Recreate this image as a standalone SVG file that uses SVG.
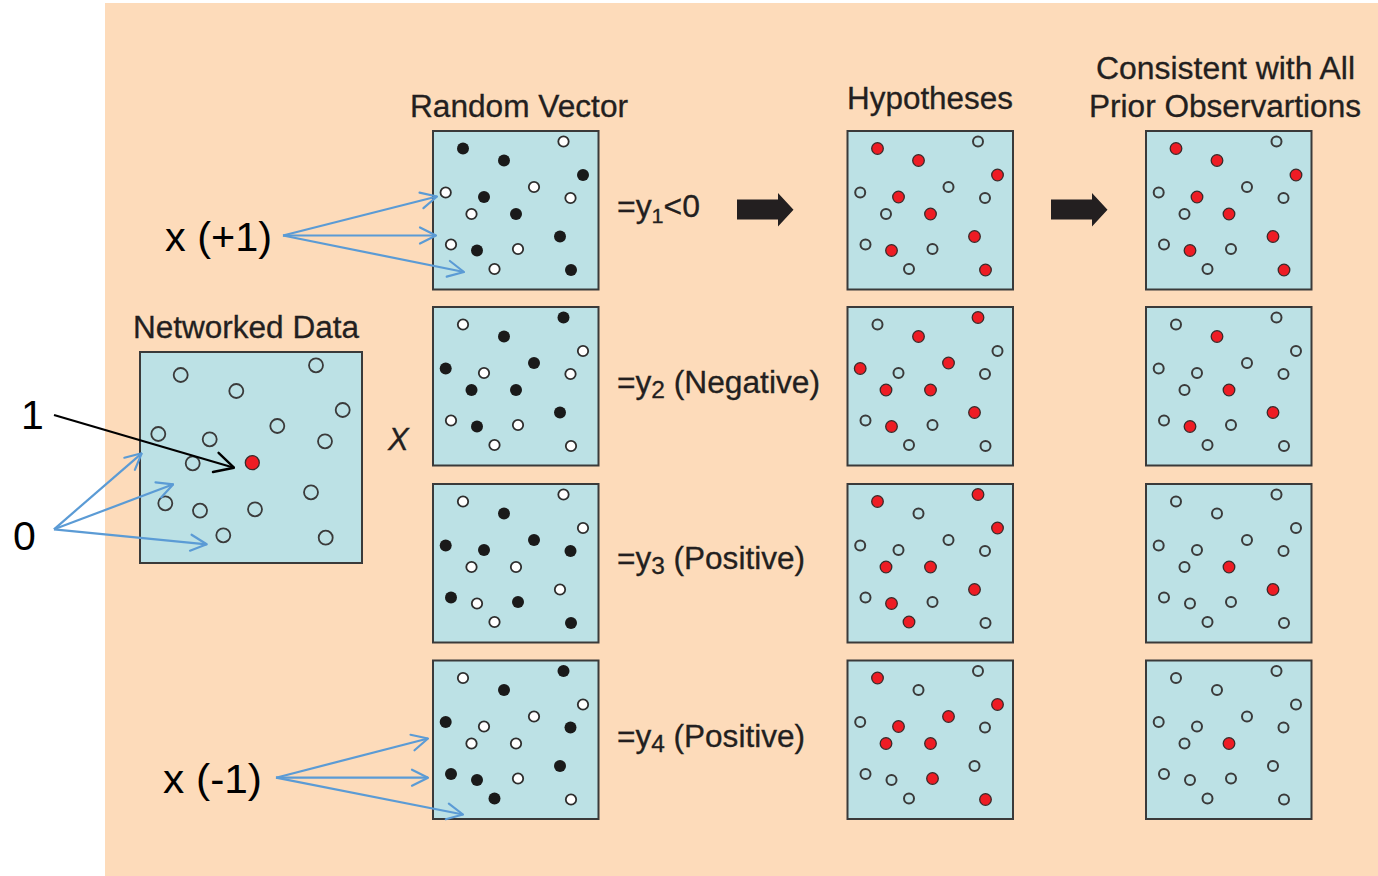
<svg xmlns="http://www.w3.org/2000/svg" width="1378" height="876" viewBox="0 0 1378 876">
<style>
.bg{fill:#FDDBBA}
.panel{fill:#BCE1E5;stroke:#3A3A3A;stroke-width:2}
.b{fill:#1A1A1A}
.w{fill:#FFFFFF;stroke:#2E2E2E;stroke-width:1.8}
.r{fill:#EE1C24;stroke:#3A2A2A;stroke-width:1.3}
.o{fill:none;stroke:#3A3A3A;stroke-width:2}
.nd{fill:none;stroke:#3A3A3A;stroke-width:1.8}
.t{font-family:"Liberation Sans",Arial,sans-serif;fill:#231F20;font-size:31px;stroke:#231F20;stroke-width:0.3}
.big{font-family:"Liberation Sans",Arial,sans-serif;fill:#000;font-size:41px}
.blue{fill:none;stroke:#5B9BD5;stroke-width:2.2}
.blk{fill:none;stroke:#000;stroke-width:2.2}
.block{fill:#231F20}
</style>
<defs>
<marker id="ab" viewBox="0 0 20 20" refX="19" refY="10" markerWidth="20" markerHeight="20" markerUnits="userSpaceOnUse" orient="auto">
<path d="M3,2 L19,10 L3,18" fill="none" stroke="#5B9BD5" stroke-width="2.2" stroke-linecap="round" stroke-linejoin="round"/>
</marker>
<marker id="ak" viewBox="0 0 24 24" refX="23" refY="12" markerWidth="24" markerHeight="24" markerUnits="userSpaceOnUse" orient="auto">
<path d="M4,2 L23,12 L4,22" fill="none" stroke="#000" stroke-width="2.4" stroke-linecap="round" stroke-linejoin="round"/>
</marker>
</defs>

<rect class="bg" x="105" y="3" width="1273" height="873"/>

<!-- titles -->
<g id="titles">
<text class="t" x="410" y="117" textLength="218" lengthAdjust="spacingAndGlyphs">Random Vector</text>
<text class="t" x="847" y="109" textLength="166" lengthAdjust="spacingAndGlyphs">Hypotheses</text>
<text class="t" x="1096" y="79" textLength="259" lengthAdjust="spacingAndGlyphs">Consistent with All</text>
<text class="t" x="1089" y="117" textLength="272" lengthAdjust="spacingAndGlyphs">Prior Observartions</text>
<text class="t" x="133" y="338" textLength="226" lengthAdjust="spacingAndGlyphs">Networked Data</text>
<text class="t" x="388" y="450" font-style="italic" stroke-width="0">X</text>
</g>

<!-- networked data -->
<g id="networked-data">
<rect class="panel" x="140" y="352" width="222" height="211"/>
<circle class="nd" cx="180.7" cy="375" r="7"/>
<circle class="nd" cx="236.3" cy="391" r="7"/>
<circle class="nd" cx="316" cy="365.3" r="7"/>
<circle class="nd" cx="342.7" cy="410" r="7"/>
<circle class="nd" cx="158.3" cy="434" r="7"/>
<circle class="nd" cx="209.7" cy="439.3" r="7"/>
<circle class="nd" cx="277.3" cy="426" r="7"/>
<circle class="nd" cx="325" cy="441.3" r="7"/>
<circle class="nd" cx="192.7" cy="463.3" r="7"/>
<circle class="r" cx="252.3" cy="462.7" r="7"/>
<circle class="nd" cx="165.3" cy="503.3" r="7"/>
<circle class="nd" cx="200" cy="510.7" r="7"/>
<circle class="nd" cx="255" cy="509.3" r="7"/>
<circle class="nd" cx="311" cy="492.3" r="7"/>
<circle class="nd" cx="223.3" cy="535.3" r="7"/>
<circle class="nd" cx="325.7" cy="537.7" r="7"/>
</g>

<!-- Random vector panels -->
<g id="rv1" transform="translate(433,131)">
<rect class="panel" x="0" y="0" width="165.5" height="158.5"/>
<circle class="b" cx="30" cy="17.5" r="6"/><circle class="b" cx="71" cy="29.5" r="6"/><circle class="w" cx="130.5" cy="10.5" r="5.2"/><circle class="b" cx="150" cy="44" r="6"/>
<circle class="w" cx="12.7" cy="61.5" r="5.2"/><circle class="b" cx="51" cy="66" r="6"/><circle class="w" cx="101" cy="56" r="5.2"/><circle class="w" cx="137.5" cy="67" r="5.2"/>
<circle class="w" cx="38.5" cy="83" r="5.2"/><circle class="b" cx="83" cy="83" r="6"/><circle class="w" cx="18" cy="113.5" r="5.2"/><circle class="b" cx="44" cy="119.5" r="6"/>
<circle class="w" cx="85" cy="118" r="5.2"/><circle class="b" cx="127" cy="105.5" r="6"/><circle class="w" cx="61.5" cy="138" r="5.2"/><circle class="b" cx="138" cy="139" r="6"/>
</g>
<g id="rv2" transform="translate(433,307)">
<rect class="panel" x="0" y="0" width="165.5" height="158.5"/>
<circle class="w" cx="30" cy="17.5" r="5.2"/><circle class="b" cx="71" cy="29.5" r="6"/><circle class="b" cx="130.5" cy="10.5" r="6"/><circle class="w" cx="150" cy="44" r="5.2"/>
<circle class="b" cx="12.7" cy="61.5" r="6"/><circle class="w" cx="51" cy="66" r="5.2"/><circle class="b" cx="101" cy="56" r="6"/><circle class="w" cx="137.5" cy="67" r="5.2"/>
<circle class="b" cx="38.5" cy="83" r="6"/><circle class="b" cx="83" cy="83" r="6"/><circle class="w" cx="18" cy="113.5" r="5.2"/><circle class="b" cx="44" cy="119.5" r="6"/>
<circle class="w" cx="85" cy="118" r="5.2"/><circle class="b" cx="127" cy="105.5" r="6"/><circle class="w" cx="61.5" cy="138" r="5.2"/><circle class="w" cx="138" cy="139" r="5.2"/>
</g>
<g id="rv3" transform="translate(433,484)">
<rect class="panel" x="0" y="0" width="165.5" height="158.5"/>
<circle class="w" cx="30" cy="17.5" r="5.2"/><circle class="b" cx="71" cy="29.5" r="6"/><circle class="w" cx="130.5" cy="10.5" r="5.2"/><circle class="w" cx="150" cy="44" r="5.2"/>
<circle class="b" cx="12.7" cy="61.5" r="6"/><circle class="b" cx="51" cy="66" r="6"/><circle class="b" cx="101" cy="56" r="6"/><circle class="b" cx="137.5" cy="67" r="6"/>
<circle class="w" cx="38.5" cy="83" r="5.2"/><circle class="w" cx="83" cy="83" r="5.2"/><circle class="b" cx="18" cy="113.5" r="6"/><circle class="w" cx="44" cy="119.5" r="5.2"/>
<circle class="b" cx="85" cy="118" r="6"/><circle class="w" cx="127" cy="105.5" r="5.2"/><circle class="w" cx="61.5" cy="138" r="5.2"/><circle class="b" cx="138" cy="139" r="6"/>
</g>
<g id="rv4" transform="translate(433,660.5)">
<rect class="panel" x="0" y="0" width="165.5" height="158.5"/>
<circle class="w" cx="30" cy="17.5" r="5.2"/><circle class="b" cx="71" cy="29.5" r="6"/><circle class="b" cx="130.5" cy="10.5" r="6"/><circle class="w" cx="150" cy="44" r="5.2"/>
<circle class="b" cx="12.7" cy="61.5" r="6"/><circle class="w" cx="51" cy="66" r="5.2"/><circle class="w" cx="101" cy="56" r="5.2"/><circle class="b" cx="137.5" cy="67" r="6"/>
<circle class="w" cx="38.5" cy="83" r="5.2"/><circle class="w" cx="83" cy="83" r="5.2"/><circle class="b" cx="18" cy="113.5" r="6"/><circle class="b" cx="44" cy="119.5" r="6"/>
<circle class="w" cx="85" cy="118" r="5.2"/><circle class="b" cx="127" cy="105.5" r="6"/><circle class="b" cx="61.5" cy="138" r="6"/><circle class="w" cx="138" cy="139" r="5.2"/>
</g>

<!-- Hypotheses panels -->
<g id="h1" transform="translate(847.5,131)">
<rect class="panel" x="0" y="0" width="165.5" height="158.5"/>
<circle class="r" cx="30" cy="17.5" r="5.8"/><circle class="r" cx="71" cy="29.5" r="5.8"/><circle class="o" cx="130.5" cy="10.5" r="5"/><circle class="r" cx="150" cy="44" r="5.8"/>
<circle class="o" cx="12.7" cy="61.5" r="5"/><circle class="r" cx="51" cy="66" r="5.8"/><circle class="o" cx="101" cy="56" r="5"/><circle class="o" cx="137.5" cy="67" r="5"/>
<circle class="o" cx="38.5" cy="83" r="5"/><circle class="r" cx="83" cy="83" r="5.8"/><circle class="o" cx="18" cy="113.5" r="5"/><circle class="r" cx="44" cy="119.5" r="5.8"/>
<circle class="o" cx="85" cy="118" r="5"/><circle class="r" cx="127" cy="105.5" r="5.8"/><circle class="o" cx="61.5" cy="138" r="5"/><circle class="r" cx="138" cy="139" r="5.8"/>
</g>
<g id="h2" transform="translate(847.5,307)">
<rect class="panel" x="0" y="0" width="165.5" height="158.5"/>
<circle class="o" cx="30" cy="17.5" r="5"/><circle class="r" cx="71" cy="29.5" r="5.8"/><circle class="r" cx="130.5" cy="10.5" r="5.8"/><circle class="o" cx="150" cy="44" r="5"/>
<circle class="r" cx="12.7" cy="61.5" r="5.8"/><circle class="o" cx="51" cy="66" r="5"/><circle class="r" cx="101" cy="56" r="5.8"/><circle class="o" cx="137.5" cy="67" r="5"/>
<circle class="r" cx="38.5" cy="83" r="5.8"/><circle class="r" cx="83" cy="83" r="5.8"/><circle class="o" cx="18" cy="113.5" r="5"/><circle class="r" cx="44" cy="119.5" r="5.8"/>
<circle class="o" cx="85" cy="118" r="5"/><circle class="r" cx="127" cy="105.5" r="5.8"/><circle class="o" cx="61.5" cy="138" r="5"/><circle class="o" cx="138" cy="139" r="5"/>
</g>
<g id="h3" transform="translate(847.5,484)">
<rect class="panel" x="0" y="0" width="165.5" height="158.5"/>
<circle class="r" cx="30" cy="17.5" r="5.8"/><circle class="o" cx="71" cy="29.5" r="5"/><circle class="r" cx="130.5" cy="10.5" r="5.8"/><circle class="r" cx="150" cy="44" r="5.8"/>
<circle class="o" cx="12.7" cy="61.5" r="5"/><circle class="o" cx="51" cy="66" r="5"/><circle class="o" cx="101" cy="56" r="5"/><circle class="o" cx="137.5" cy="67" r="5"/>
<circle class="r" cx="38.5" cy="83" r="5.8"/><circle class="r" cx="83" cy="83" r="5.8"/><circle class="o" cx="18" cy="113.5" r="5"/><circle class="r" cx="44" cy="119.5" r="5.8"/>
<circle class="o" cx="85" cy="118" r="5"/><circle class="r" cx="127" cy="105.5" r="5.8"/><circle class="r" cx="61.5" cy="138" r="5.8"/><circle class="o" cx="138" cy="139" r="5"/>
</g>
<g id="h4" transform="translate(847.5,660.5)">
<rect class="panel" x="0" y="0" width="165.5" height="158.5"/>
<circle class="r" cx="30" cy="17.5" r="5.8"/><circle class="o" cx="71" cy="29.5" r="5"/><circle class="o" cx="130.5" cy="10.5" r="5"/><circle class="r" cx="150" cy="44" r="5.8"/>
<circle class="o" cx="12.7" cy="61.5" r="5"/><circle class="r" cx="51" cy="66" r="5.8"/><circle class="r" cx="101" cy="56" r="5.8"/><circle class="o" cx="137.5" cy="67" r="5"/>
<circle class="r" cx="38.5" cy="83" r="5.8"/><circle class="r" cx="83" cy="83" r="5.8"/><circle class="o" cx="18" cy="113.5" r="5"/><circle class="o" cx="44" cy="119.5" r="5"/>
<circle class="r" cx="85" cy="118" r="5.8"/><circle class="o" cx="127" cy="105.5" r="5"/><circle class="o" cx="61.5" cy="138" r="5"/><circle class="r" cx="138" cy="139" r="5.8"/>
</g>

<!-- Consistent panels -->
<g id="c1" transform="translate(1146,131)">
<rect class="panel" x="0" y="0" width="165.5" height="158.5"/>
<circle class="r" cx="30" cy="17.5" r="5.8"/><circle class="r" cx="71" cy="29.5" r="5.8"/><circle class="o" cx="130.5" cy="10.5" r="5"/><circle class="r" cx="150" cy="44" r="5.8"/>
<circle class="o" cx="12.7" cy="61.5" r="5"/><circle class="r" cx="51" cy="66" r="5.8"/><circle class="o" cx="101" cy="56" r="5"/><circle class="o" cx="137.5" cy="67" r="5"/>
<circle class="o" cx="38.5" cy="83" r="5"/><circle class="r" cx="83" cy="83" r="5.8"/><circle class="o" cx="18" cy="113.5" r="5"/><circle class="r" cx="44" cy="119.5" r="5.8"/>
<circle class="o" cx="85" cy="118" r="5"/><circle class="r" cx="127" cy="105.5" r="5.8"/><circle class="o" cx="61.5" cy="138" r="5"/><circle class="r" cx="138" cy="139" r="5.8"/>
</g>
<g id="c2" transform="translate(1146,307)">
<rect class="panel" x="0" y="0" width="165.5" height="158.5"/>
<circle class="o" cx="30" cy="17.5" r="5"/><circle class="r" cx="71" cy="29.5" r="5.8"/><circle class="o" cx="130.5" cy="10.5" r="5"/><circle class="o" cx="150" cy="44" r="5"/>
<circle class="o" cx="12.7" cy="61.5" r="5"/><circle class="o" cx="51" cy="66" r="5"/><circle class="o" cx="101" cy="56" r="5"/><circle class="o" cx="137.5" cy="67" r="5"/>
<circle class="o" cx="38.5" cy="83" r="5"/><circle class="r" cx="83" cy="83" r="5.8"/><circle class="o" cx="18" cy="113.5" r="5"/><circle class="r" cx="44" cy="119.5" r="5.8"/>
<circle class="o" cx="85" cy="118" r="5"/><circle class="r" cx="127" cy="105.5" r="5.8"/><circle class="o" cx="61.5" cy="138" r="5"/><circle class="o" cx="138" cy="139" r="5"/>
</g>
<g id="c3" transform="translate(1146,484)">
<rect class="panel" x="0" y="0" width="165.5" height="158.5"/>
<circle class="o" cx="30" cy="17.5" r="5"/><circle class="o" cx="71" cy="29.5" r="5"/><circle class="o" cx="130.5" cy="10.5" r="5"/><circle class="o" cx="150" cy="44" r="5"/>
<circle class="o" cx="12.7" cy="61.5" r="5"/><circle class="o" cx="51" cy="66" r="5"/><circle class="o" cx="101" cy="56" r="5"/><circle class="o" cx="137.5" cy="67" r="5"/>
<circle class="o" cx="38.5" cy="83" r="5"/><circle class="r" cx="83" cy="83" r="5.8"/><circle class="o" cx="18" cy="113.5" r="5"/><circle class="o" cx="44" cy="119.5" r="5"/>
<circle class="o" cx="85" cy="118" r="5"/><circle class="r" cx="127" cy="105.5" r="5.8"/><circle class="o" cx="61.5" cy="138" r="5"/><circle class="o" cx="138" cy="139" r="5"/>
</g>
<g id="c4" transform="translate(1146,660.5)">
<rect class="panel" x="0" y="0" width="165.5" height="158.5"/>
<circle class="o" cx="30" cy="17.5" r="5"/><circle class="o" cx="71" cy="29.5" r="5"/><circle class="o" cx="130.5" cy="10.5" r="5"/><circle class="o" cx="150" cy="44" r="5"/>
<circle class="o" cx="12.7" cy="61.5" r="5"/><circle class="o" cx="51" cy="66" r="5"/><circle class="o" cx="101" cy="56" r="5"/><circle class="o" cx="137.5" cy="67" r="5"/>
<circle class="o" cx="38.5" cy="83" r="5"/><circle class="r" cx="83" cy="83" r="5.8"/><circle class="o" cx="18" cy="113.5" r="5"/><circle class="o" cx="44" cy="119.5" r="5"/>
<circle class="o" cx="85" cy="118" r="5"/><circle class="o" cx="127" cy="105.5" r="5"/><circle class="o" cx="61.5" cy="138" r="5"/><circle class="o" cx="138" cy="139" r="5"/>
</g>

<!-- y labels -->
<g id="ylabels">
<text class="t" x="617" y="217" textLength="83" lengthAdjust="spacingAndGlyphs">=y<tspan font-size="21" dy="6">1</tspan><tspan dy="-6">&lt;0</tspan></text>
<text class="t" x="617" y="393" textLength="203" lengthAdjust="spacingAndGlyphs">=y<tspan font-size="24" dy="5">2</tspan><tspan dy="-5"> (Negative)</tspan></text>
<text class="t" x="617" y="569" textLength="188" lengthAdjust="spacingAndGlyphs">=y<tspan font-size="24" dy="5">3</tspan><tspan dy="-5"> (Positive)</tspan></text>
<text class="t" x="617" y="747" textLength="188" lengthAdjust="spacingAndGlyphs">=y<tspan font-size="24" dy="5">4</tspan><tspan dy="-5"> (Positive)</tspan></text>
</g>

<!-- callout labels -->
<g id="callouts">
<text class="big" x="165" y="251" textLength="107" lengthAdjust="spacingAndGlyphs">x (+1)</text>
<text class="big" x="163" y="793" textLength="99" lengthAdjust="spacingAndGlyphs">x (-1)</text>
<text class="big" x="21" y="429">1</text>
<text class="big" x="13" y="550">0</text>
</g>

<!-- connectors -->
<g id="connectors">
<line class="blk" x1="54" y1="415" x2="234" y2="467.7" marker-end="url(#ak)"/>
<line class="blue" x1="54" y1="529.3" x2="141.7" y2="453.3" marker-end="url(#ab)"/>
<line class="blue" x1="54" y1="529.3" x2="173.3" y2="484.3" marker-end="url(#ab)"/>
<line class="blue" x1="54" y1="529.3" x2="206.7" y2="544.3" marker-end="url(#ab)"/>
<line class="blue" x1="283" y1="235.5" x2="437" y2="196.5" marker-end="url(#ab)"/>
<line class="blue" x1="283" y1="235.5" x2="436" y2="235.5" marker-end="url(#ab)"/>
<line class="blue" x1="283" y1="235.5" x2="464" y2="272" marker-end="url(#ab)"/>
<line class="blue" x1="276" y1="777.7" x2="428" y2="738.5" marker-end="url(#ab)"/>
<line class="blue" x1="276" y1="777.7" x2="428" y2="777.7" marker-end="url(#ab)"/>
<line class="blue" x1="276" y1="777.7" x2="463" y2="814.5" marker-end="url(#ab)"/>
<polygon class="block" points="737,199.5 778,199.5 778,193 793.5,209.7 778,226.5 778,219.5 737,219.5"/>
<polygon class="block" points="1051,199.5 1092,199.5 1092,193 1107.5,209.7 1092,226.5 1092,219.5 1051,219.5"/>
</g>
</svg>
